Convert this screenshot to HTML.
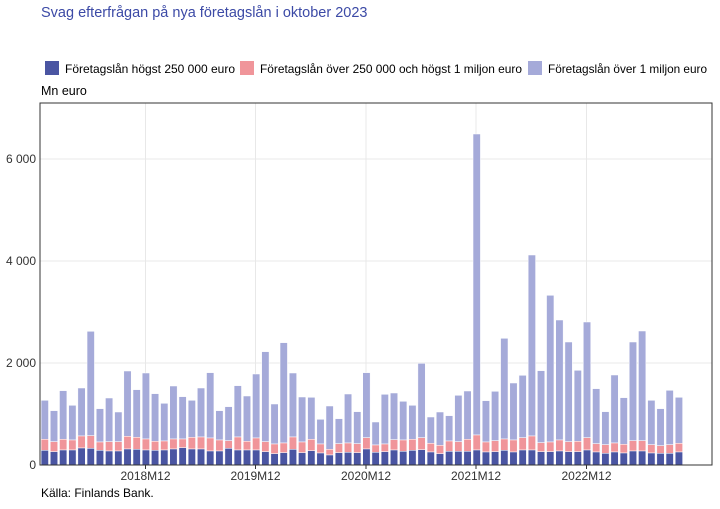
<!DOCTYPE html>
<html><head><meta charset="utf-8"><style>
body{margin:0;background:#fff;width:720px;height:504px;overflow:hidden;font-family:"Liberation Sans",Arial,sans-serif}
</style></head><body>
<svg id="s" width="720" height="504" xmlns="http://www.w3.org/2000/svg" font-family="Liberation Sans, Arial, sans-serif">
<text x="41" y="17" font-size="14.5" fill="#3c4aa6">Svag efterfrågan på nya företagslån i oktober 2023</text>
<rect x="45" y="61" width="14" height="14" fill="#4a55a2"/>
<text x="65" y="73" font-size="12" fill="#000" textLength="170" lengthAdjust="spacingAndGlyphs">Företagslån högst 250 000 euro</text>
<rect x="240" y="61" width="14" height="14" fill="#f0959a"/>
<text x="260" y="73" font-size="12" fill="#000" textLength="262" lengthAdjust="spacingAndGlyphs">Företagslån över 250 000 och högst 1 miljon euro</text>
<rect x="528" y="61" width="14" height="14" fill="#a5aad9"/>
<text x="548" y="73" font-size="12" fill="#000" textLength="159" lengthAdjust="spacingAndGlyphs">Företagslån över 1 miljon euro</text>
<text x="41" y="95" font-size="12.5" fill="#000">Mn euro</text>
<g stroke="#e8e8e8" stroke-width="1">
<line x1="40" x2="712" y1="159" y2="159"/><line x1="40" x2="712" y1="261" y2="261"/><line x1="40" x2="712" y1="363" y2="363"/>
<line x1="145.5" x2="145.5" y1="103" y2="465"/><line x1="255.5" x2="255.5" y1="103" y2="465"/><line x1="366" x2="366" y1="103" y2="465"/><line x1="476" x2="476" y1="103" y2="465"/><line x1="586.5" x2="586.5" y1="103" y2="465"/>
</g>
<g id="bars"></g>
<rect x="40" y="103" width="672" height="362" fill="none" stroke="#333" stroke-width="1"/>
<g font-size="12" fill="#333" text-anchor="end">
<text x="36" y="163">6 000</text><text x="36" y="265">4 000</text><text x="36" y="367">2 000</text><text x="36" y="469">0</text>
</g>
<g font-size="12" fill="#333" text-anchor="middle">
<line x1="145.5" x2="145.5" y1="465" y2="469" stroke="#333"/><line x1="255.5" x2="255.5" y1="465" y2="469" stroke="#333"/><line x1="366" x2="366" y1="465" y2="469" stroke="#333"/><line x1="476" x2="476" y1="465" y2="469" stroke="#333"/><line x1="586.5" x2="586.5" y1="465" y2="469" stroke="#333"/>
<text x="145.5" y="480">2018M12</text><text x="255.5" y="480">2019M12</text><text x="366" y="480">2020M12</text><text x="476" y="480">2021M12</text><text x="586.5" y="480">2022M12</text>
</g>
<text x="41" y="497" font-size="12" fill="#000">Källa: Finlands Bank.</text>
</svg>
<script>
var T=[361,392,332,376,324,154,386,354,396,273,329,279,341,370,318,350,361,324,278,392,380,317,348,282,215,372,188,279,351,352,418,378,416,342,395,278,
426,343,339,364,376,250,411,396,407,346,333,-438,362,334,175,309,286,-75,272,46,120,186,271,126,326,395,285,353,186,153,361,386,331,352];
var R=[478,485,478,480,468,467,486,485,485,469,472,477,484,483,477,477,472,471,474,480,482,471,484,474,485,492,489,471,486,478,492,508,491,489,491,473,
495,492,479,480,478,473,490,496,483,485,478,465,486,482,477,480,473,468,488,486,480,485,484,473,491,494,489,493,482,482,494,497,494,490];
var B=[511,515,510,510,504,505,511,513,513,507,508,510,511,510,507,503,507,507,513,513,505,510,510,510,515,521,518,508,518,512,519,525,518,517,518,507,
517,515,510,514,511,509,516,521,514,514,514,510,516,515,511,516,510,510,515,515,513,515,515,510,516,520,516,519,513,513,519,520,520,516];
var h='',y0=465;
function Y(z){return 280+z/3;}
for(var i=0;i<70;i++){var cx=44.8+i*9.19,x=cx-3.7,w=7.4;
var t=Y(T[i]),r=Y(R[i]),b=Y(B[i]);
h+='<rect x="'+x+'" y="'+t+'" width="'+w+'" height="'+(r-t)+'" fill="#a5aad9" stroke="#fff" stroke-width="0.5"/>';
h+='<rect x="'+x+'" y="'+r+'" width="'+w+'" height="'+(b-r)+'" fill="#f0959a" stroke="#fff" stroke-width="0.5"/>';
h+='<rect x="'+x+'" y="'+b+'" width="'+w+'" height="'+(y0-b)+'" fill="#4a55a2" stroke="#fff" stroke-width="0.5"/>';}
document.getElementById('bars').innerHTML=h;
</script>
</body></html>
